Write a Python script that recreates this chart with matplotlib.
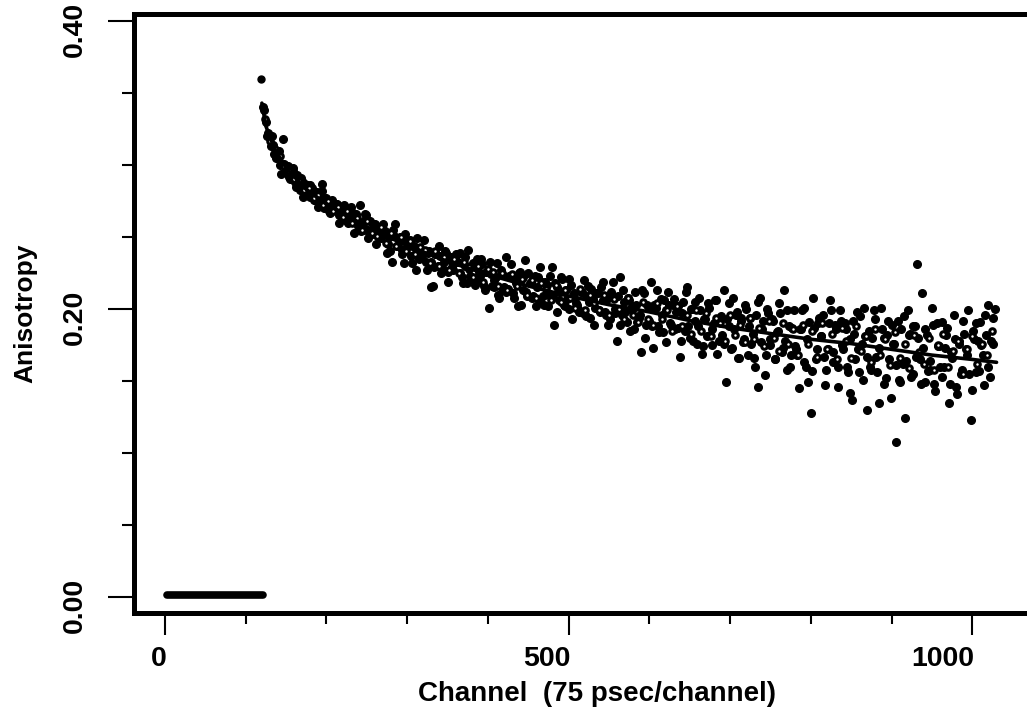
import matplotlib
matplotlib.use("Agg")
import matplotlib.pyplot as plt
from matplotlib.ticker import FixedLocator, MultipleLocator
from matplotlib.transforms import ScaledTranslation

plt.rcParams['font.family'] = ['Liberation Sans', 'DejaVu Sans']
plt.rcParams['font.weight'] = 'bold'

# ---------------- data (anisotropy in thousandths) ----------------
# noisy filled-dot series A: channels 122, 125, ..., 1028
dot_channels = list(range(122, 1029, 3))
dot_values = [
    340, 330, 322, 313, 314, 305, 307, 300, 318, 295,
    299, 290, 296, 288, 293, 283, 289, 281, 286, 278,
    284, 276, 281, 274, 287, 270, 277, 268, 275, 269,
    273, 265, 271, 263, 269, 260, 268, 262, 266, 258,
    272, 255, 266, 254, 261, 252, 259, 257, 250, 256,
    254, 239, 250, 233, 251, 244, 248, 241, 232, 247,
    246, 237, 244, 227, 242, 236, 240, 233, 239, 215,
    216, 238, 230, 237, 228, 240, 226, 234, 229, 236,
    233, 239, 222, 230, 218, 228, 221, 231, 219, 226,
    235, 216, 226, 201, 224, 215, 222, 210, 227, 213,
    236, 214, 223, 211, 221, 202, 226, 213, 234, 209,
    218, 208, 223, 215, 206, 219, 203, 217, 210, 229,
    189, 215, 206, 222, 203, 213, 200, 217, 208, 204,
    200, 212, 197, 209, 216, 194, 207, 201, 211, 198,
    219, 198, 207, 193, 210, 200, 178, 222, 196, 205,
    191, 206, 199, 186, 203, 194, 170, 211, 189, 201,
    219, 173, 201, 188, 207, 184, 199, 212, 190, 203,
    186, 202, 167, 197, 185, 215, 180, 200, 192, 176,
    208, 169, 193, 181, 201, 175, 190, 206, 178, 195,
    213, 149, 188, 172, 208, 196, 166, 192, 177, 203,
    168, 194, 183, 160, 146, 208, 186, 154, 200, 175,
    193, 165, 184, 204, 170, 213, 158, 188, 168, 199,
    172, 145, 186, 201, 160, 149, 128, 208, 165, 190,
    181, 196, 147, 172, 206, 163, 189, 146, 199, 175,
    190, 160, 142, 137, 183, 198, 156, 176, 201, 130,
    185, 158, 199, 167, 135, 201, 180, 152, 192, 138,
    176, 108, 192, 149, 162, 124, 199, 183, 155, 188,
    231, 165, 211, 149, 182, 158, 201, 148, 190, 174,
    191, 160, 182, 135, 170, 196, 146, 178, 155, 192,
    172, 199, 123, 185, 156, 178, 191, 168, 196, 203,
    153, 176, 200,
]

# noisy filled-dot series B: channels 123, 126, ..., 1026
dot2_channels = list(range(123, 1027, 3))
dot2_values = [
    338, 320, 321, 320, 308, 306, 310, 294, 301, 296,
    292, 296, 298, 285, 288, 291, 278, 287, 281, 286,
    281, 276, 271, 280, 282, 272, 276, 267, 276, 269,
    273, 260, 268, 272, 261, 263, 271, 253, 264, 257,
    254, 261, 265, 249, 255, 259, 245, 257, 249, 259,
    253, 245, 240, 255, 259, 244, 250, 238, 252, 243,
    248, 232, 243, 249, 235, 237, 248, 227, 240, 233,
    229, 238, 244, 225, 233, 239, 219, 236, 227, 238,
    233, 225, 218, 236, 241, 223, 232, 217, 235, 223,
    231, 213, 226, 233, 216, 220, 232, 208, 224, 215,
    212, 223, 231, 208, 218, 225, 203, 222, 212, 225,
    218, 209, 202, 222, 229, 209, 219, 202, 223, 210,
    218, 198, 212, 221, 202, 207, 221, 193, 211, 203,
    198, 212, 220, 195, 205, 214, 189, 211, 199, 215,
    206, 196, 189, 212, 219, 197, 209, 189, 213, 198,
    208, 185, 202, 212, 191, 196, 213, 180, 203, 192,
    188, 203, 213, 184, 196, 206, 177, 203, 189, 207,
    198, 187, 178, 205, 212, 188, 200, 178, 205, 188,
    199, 174, 193, 204, 182, 186, 206, 169, 194, 182,
    176, 193, 204, 173, 186, 198, 166, 194, 179, 200,
    188, 176, 166, 196, 205, 177, 192, 168, 197, 179,
    192, 165, 185, 197, 173, 178, 199, 160, 187, 174,
    168, 186, 199, 163, 179, 191, 157, 187, 172, 194,
    181, 167, 158, 190, 199, 170, 186, 160, 192, 172,
    186, 156, 179, 192, 165, 172, 195, 151, 181, 167,
    160, 180, 193, 156, 173, 186, 148, 182, 165, 189,
    176, 161, 151, 186, 195, 164, 182, 153, 188, 167,
    180, 148, 173, 186, 157, 164, 189, 143, 174, 160,
    153, 173, 187, 148, 166, 179, 141, 176, 158, 183,
    168, 155, 144, 179, 190, 157, 175, 147, 182, 160,
    178, 194,
]

# denser, less noisy series (open-centred circles): channels 124, 130, ..., 1024
ring_channels = list(range(124, 1025, 6))
ring_values = [
    332, 317, 311, 306, 299, 296, 290, 289, 283, 284,
    277, 279, 272, 275, 268, 271, 264, 268, 260, 263,
    255, 261, 253, 251, 257, 246, 253, 244, 250, 240,
    247, 238, 243, 241, 232, 240, 230, 236, 227, 235,
    225, 233, 229, 222, 230, 219, 228, 226, 216, 225,
    213, 224, 216, 221, 210, 220, 208, 218, 214, 206,
    217, 205, 213, 208, 201, 214, 199, 210, 204, 199,
    210, 196, 207, 200, 193, 208, 196, 191, 205, 193,
    189, 204, 193, 199, 185, 202, 188, 196, 183, 199,
    185, 197, 181, 194, 190, 178, 196, 182, 189, 177,
    194, 179, 187, 174, 192, 180, 171, 190, 176, 186,
    168, 189, 176, 185, 167, 190, 172, 183, 165, 187,
    178, 166, 188, 171, 181, 163, 186, 168, 179, 161,
    184, 166, 176, 159, 182, 170, 162, 180, 158, 175,
    183, 160, 171, 178, 155, 172, 181, 162, 176, 168,
    185,
]

# isolated high point at the start of the decay
peak_channel = [119]
peak_value = [360]

# fitted decay curve
fit_channels = [120, 125, 135, 150, 175, 200, 250, 300, 350, 400, 450, 500,
                550, 600, 650, 700, 750, 800, 850, 900, 950, 1000, 1030]
fit_values = [343, 327, 312, 298, 283, 273, 257, 244, 233, 224, 216, 209,
              203, 198, 192, 187, 183, 179, 176, 172, 168, 165, 163]

# pre-pulse baseline (channels before the excitation)
base_channels = [3, 121]
base_values = [1.5, 1.5]

x_major = [0, 500, 1000]
x_major_labels = ['0', '500', '1000']
y_major = [0.0, 0.2, 0.4]
y_major_labels = ['0.00', '0.20', '0.40']
x_title = 'Channel  (75 psec/channel)'
y_title = 'Anisotropy'

SCALE = 1000.0

# ---------------- figure ----------------
W, H, DPI = 1027, 709, 100
fig = plt.figure(figsize=(W / DPI, H / DPI), dpi=DPI)
left_px, right_px, top_px, bot_px = 134, 1060, 14, 613
ax = fig.add_axes([left_px / W, 1 - bot_px / H, (right_px - left_px) / W, (bot_px - top_px) / H])

ax.plot(base_channels, [v / SCALE for v in base_values], color='black', lw=5.5,
        solid_capstyle='round', zorder=3)
ax.plot(dot_channels, [v / SCALE for v in dot_values], 'o', color='black', ms=5.5,
        mec='black', mew=1.0, zorder=2)
ax.plot(dot2_channels, [v / SCALE for v in dot2_values], 'o', color='black', ms=5.5,
        mec='black', mew=1.0, zorder=2)
ax.plot(ring_channels, [v / SCALE for v in ring_values], 'o', mfc='white', mec='black',
        ms=4.0, mew=2.2, zorder=2.5)
ax.plot(peak_channel, [v / SCALE for v in peak_value], 'o', color='black', ms=5.0, zorder=2)
ax.plot(fit_channels, [v / SCALE for v in fit_values], color='black', lw=2.6,
        solid_capstyle='round', zorder=4)

ax.set_xlim(-38.4, 1108.6)
ax.set_ylim(-0.0111, 0.4049)

for side in ['left', 'top', 'bottom']:
    ax.spines[side].set_linewidth(3.6)
ax.spines['right'].set_visible(False)

ax.xaxis.set_major_locator(FixedLocator(x_major))
ax.xaxis.set_minor_locator(MultipleLocator(100))
ax.set_xticklabels(x_major_labels)
ax.yaxis.set_major_locator(FixedLocator(y_major))
ax.yaxis.set_minor_locator(MultipleLocator(0.05))
ax.set_yticklabels(y_major_labels)

ax.tick_params(axis='x', which='major', direction='out', length=16, width=1.5,
               labelsize=20.5, pad=8)
ax.tick_params(axis='x', which='minor', direction='out', length=8, width=1.5)
ax.tick_params(axis='y', which='major', direction='out', length=19, width=1.5,
               labelsize=20.5, pad=14, labelrotation=90)
ax.tick_params(axis='y', which='minor', direction='out', length=9, width=1.5)

for lbl in ax.get_xticklabels():
    lbl.set_fontweight('bold')
    lbl.set_ha('right')
for lbl in ax.get_yticklabels():
    lbl.set_fontweight('bold')
    lbl.set_va('center')

ax.set_xlabel(x_title, fontsize=20, fontweight='bold', labelpad=6)
ax.set_ylabel(y_title, fontsize=19, fontweight='bold', labelpad=18)

fig.canvas.draw()
off = ScaledTranslation(0, -8 / DPI, fig.dpi_scale_trans)
for lbl in ax.get_yticklabels():
    lbl.set_transform(lbl.get_transform() + off)
offx = ScaledTranslation(2 / DPI, 0, fig.dpi_scale_trans)
for lbl in ax.get_xticklabels():
    lbl.set_transform(lbl.get_transform() + offx)

fig.savefig('out.png', dpi=DPI)
